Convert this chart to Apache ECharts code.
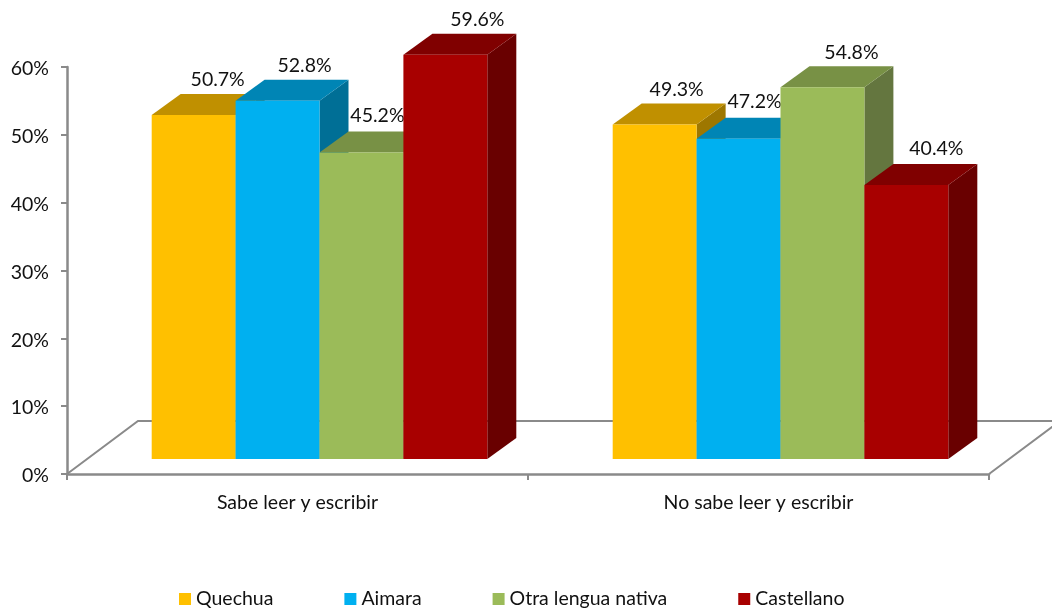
<!DOCTYPE html>
<html>
<head>
<meta charset="utf-8">
<title>Sabe leer y escribir</title>
<script src="https://cdn.jsdelivr.net/npm/echarts@6/dist/echarts.min.js"></script>
<style>
  html, body { margin: 0; padding: 0; background: #fff; }
  #chart { width: 1052px; height: 611px; }
</style>
</head>
<body>
<div id="chart"></div>
<script>
// chart values
const categories = ['Sabe leer y escribir', 'No sabe leer y escribir']
const quechua = [50.7, 49.3]
const aimara = [52.8, 47.2]
const otraLengua = [45.2, 54.8]
const castellano = [59.6, 40.4]
const yTicks = [0, 10, 20, 30, 40, 50, 60]

// fake 3d look, in pixels
const BAR_SHARE = 0.182 // bar width as part of the category band
const BAND_SHIFT = 22 // excel pushes the group right, away from the wall
const LIFT = 15 // front face stands above the axis line
const DX = 29
const DY = 21
const FLOOR_DX = 71
const FLOOR_DY = 53
const FONT = 'Lato, "Noto Sans", sans-serif'
const FONT_SIZE = 19.5
const AXIS_COLOR = '#8a8a8a'

// label nudges per series and category, x then y from the bar's top centre
const labelNudge = {
  Quechua: [[24, -35], [22, -35]],
  Aimara: [[27, -35], [16, -37]],
  'Otra lengua nativa': [[16, -37], [29, -35]],
  Castellano: [[32, -35], [30, -36]]
}

function poly(points, color) {
  return { type: 'polygon', shape: { points: points }, style: { fill: color, stroke: null } }
}

function bar3d(name, seriesIndex, values, front, top, side) {
  return {
    name: name,
    type: 'custom',
    data: values.map((v, i) => [i, v]),
    encode: { x: 0, y: 1 },
    itemStyle: { color: front },
    z: 3 + seriesIndex,
    clip: false,
    renderItem(params, api) {
      let cat = api.value(0)
      let base = api.coord([cat, 0])
      let head = api.coord([cat, api.value(1)])
      let band = api.size([1, 0])[0]
      let w = band * BAR_SHARE
      let x0 = base[0] + BAND_SHIFT + (seriesIndex - 2) * w
      let x1 = x0 + w
      let yb = base[1] - LIFT
      let yt = head[1] - LIFT
      let nudge = labelNudge[name][cat]
      return {
        type: 'group',
        children: [
          poly([[x1, yt], [x1 + DX, yt - DY], [x1 + DX, yb - DY], [x1, yb]], side),
          poly([[x0, yt], [x0 + DX, yt - DY], [x1 + DX, yt - DY], [x1, yt]], top),
          poly([[x0, yt], [x1, yt], [x1, yb], [x0, yb]], front),
          {
            type: 'text',
            z2: 50,
            style: {
              x: (x0 + x1) / 2 + nudge[0],
              y: yt + nudge[1],
              text: api.value(1).toFixed(1) + '%',
              fill: '#111',
              font: FONT_SIZE + 'px ' + FONT,
              align: 'center',
              verticalAlign: 'middle'
            }
          }
        ]
      }
    }
  }
}

// the floor under the bars
const floorSeries = {
  name: 'floor',
  type: 'custom',
  data: [[0, 0]],
  encode: { x: 0, y: 1 },
  silent: true,
  clip: false,
  z: 1,
  renderItem(params, api) {
    let c = params.coordSys
    let yb = c.y + c.height
    let xr = c.x + c.width
    return {
      type: 'polyline',
      shape: { points: [[c.x, yb], [c.x + FLOOR_DX, yb - FLOOR_DY], [xr + FLOOR_DX, yb - FLOOR_DY], [xr, yb]] },
      style: { fill: null, stroke: AXIS_COLOR, lineWidth: 2 }
    }
  }
}

const option = {
  animation: false,
  backgroundColor: '#fff',
  grid: { left: 67, top: 67, width: 922, height: 407, containLabel: false },
  legend: {
    data: ['Quechua', 'Aimara', 'Otra lengua nativa', 'Castellano'],
    left: 174,
    top: 584,
    icon: 'rect',
    itemWidth: 12,
    itemHeight: 12,
    itemGap: 71,
    selectedMode: false,
    textStyle: { color: '#111', fontFamily: FONT, fontSize: FONT_SIZE }
  },
  xAxis: {
    type: 'category',
    data: categories,
    axisLine: { lineStyle: { color: AXIS_COLOR, width: 2.5 } },
    axisTick: { show: true, length: 6, lineStyle: { color: AXIS_COLOR, width: 2 } },
    axisLabel: { color: '#111', fontFamily: FONT, fontSize: FONT_SIZE, margin: 19 }
  },
  yAxis: {
    type: 'value',
    min: yTicks[0],
    max: yTicks[yTicks.length - 1],
    interval: yTicks[1] - yTicks[0],
    splitLine: { show: false },
    axisLine: { show: true, lineStyle: { color: AXIS_COLOR, width: 2.5 } },
    axisTick: { show: true, length: 6, lineStyle: { color: AXIS_COLOR, width: 2 } },
    axisLabel: {
      margin: 18,
      formatter: '{v|{value}%}',
      // taller line with the text at its bottom, sits the label a bit under the tick
      rich: { v: { color: '#111', fontFamily: FONT, fontSize: FONT_SIZE, lineHeight: 24, verticalAlign: 'bottom' } }
    }
  },
  series: [
    floorSeries,
    bar3d('Quechua', 0, quechua, '#FFC000', '#C09000', '#9E7700'),
    bar3d('Aimara', 1, aimara, '#00B0F0', '#0085B5', '#006F96'),
    bar3d('Otra lengua nativa', 2, otraLengua, '#9BBB59', '#789145', '#64763F'),
    bar3d('Castellano', 3, castellano, '#A80000', '#800000', '#690000')
  ]
}

const chart = echarts.init(document.getElementById('chart'))
chart.setOption(option)
</script>
</body>
</html>
